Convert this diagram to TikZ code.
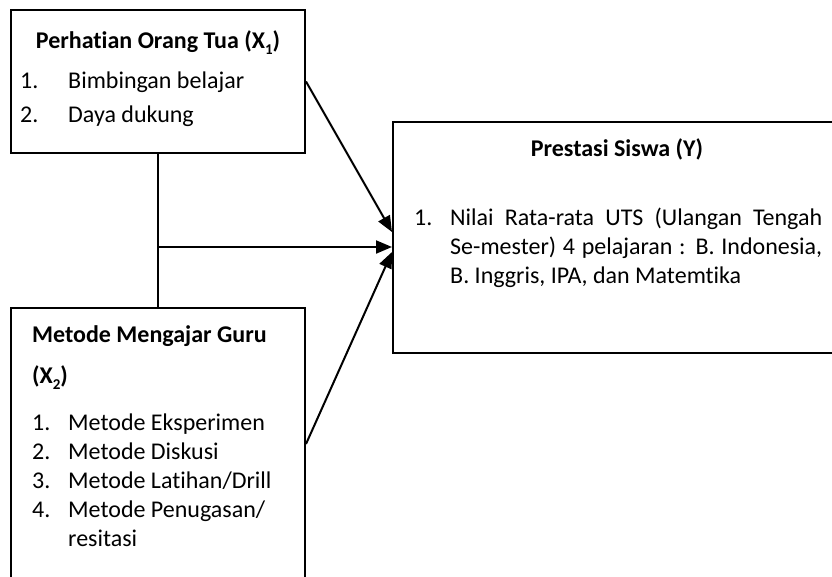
\documentclass[tikz,border=0pt]{standalone}
\usepackage{fontspec}
\setmainfont{Carlito}[Ligatures=NoCommon]
\usetikzlibrary{arrows.meta}
\newcommand{\lowsub}[1]{\raisebox{-0.55ex}{\fontsize{15}{15}\selectfont #1}}
\begin{document}
\begin{tikzpicture}[x=1pt,y=-1pt,
  box/.style={draw, line width=2pt, rectangle, inner sep=0pt},
  txt/.style={anchor=base west, inner sep=0pt, font=\fontsize{24}{28}\selectfont},
  ttl/.style={anchor=base, inner sep=0pt, font=\fontsize{24}{28}\selectfont\bfseries},
  ttlw/.style={anchor=base west, inner sep=0pt, font=\fontsize{24}{28}\selectfont\bfseries},
  conn/.style={line width=2pt},
  arr/.style={line width=2pt, -{Triangle[length=16pt,width=13pt]}}]
\useasboundingbox (0,0) rectangle (832,576);
\clip (0,0) rectangle (832,576);
\fill[white] (0,0) rectangle (832,576);

% boxes
\node[box, minimum width=294pt, minimum height=143pt] (x1box) at (158,81.5) {};
\node[box, minimum width=294pt, minimum height=272pt] (x2box) at (158,444) {};
\node[box, minimum width=448pt, minimum height=231pt] (ybox) at (617,237.5) {};

% X1 texts
\node[ttl] (x1t) at (158,48) {Perhatian Orang Tua (X\lowsub{1})};
\node[txt] (x1n1) at (20,88) {1.};
\node[txt] (x1i1) at (68,88) {Bimbingan belajar};
\node[txt] (x1n2) at (20,122) {2.};
\node[txt] (x1i2) at (68,122) {Daya dukung};

% X2 texts
\node[ttlw] (x2t) at (32,342) {Metode Mengajar Guru};
\node[ttlw] (x2t2) at (32,383) {(X\lowsub{2})};
\node[txt] (x2n1) at (32,430) {1.};
\node[txt] (x2i1) at (68,430) {Metode Eksperimen};
\node[txt] (x2n2) at (32,459) {2.};
\node[txt] (x2i2) at (68,459) {Metode Diskusi};
\node[txt] (x2n3) at (32,488) {3.};
\node[txt] (x2i3) at (68,488) {Metode Latihan/Drill};
\node[txt] (x2n4) at (32,517) {4.};
\node[txt] (x2i4) at (68,517) {Metode Penugasan/};
\node[txt] (x2i5) at (68,546) {resitasi};

% Y texts
\node[ttl] (yt) at (617,156) {Prestasi Siswa (Y)};
\node[txt] (yn1) at (414,225) {1.};
\node[txt] (yl1) at (450,225) {\makebox[372pt][s]{Nilai Rata-rata UTS (Ulangan Tengah}};
\node[txt] (yl2) at (450,254) {\makebox[372pt][s]{Se-mester) 4 pelajaran : B. Indonesia,}};
\node[txt] (yl3) at (450,283) {B. Inggris, IPA, dan Matemtika};

% connectors
\coordinate (j) at (158,247);
\coordinate (t1) at (392,232);
\coordinate (t3) at (392,252);
\draw[conn] (x1box.south) -- (x2box.north);
\draw[arr] (j) -- (j -| ybox.west);
\draw[arr] (x1box.east) -- (t1);
\draw[arr] (x2box.east) -- (t3);
\end{tikzpicture}
\end{document}
